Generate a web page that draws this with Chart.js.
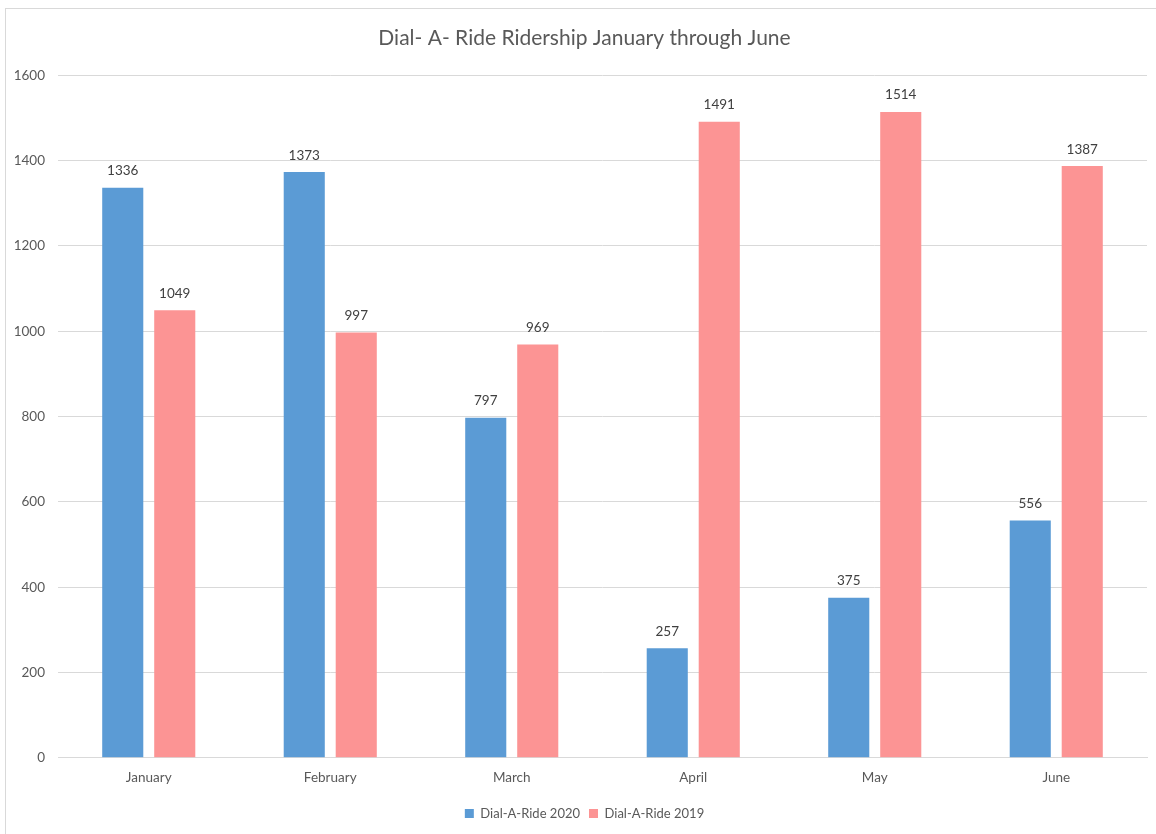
<!DOCTYPE html>
<html>
<head>
<meta charset="utf-8">
<script src="https://cdn.jsdelivr.net/npm/chart.js@4/dist/chart.umd.min.js"></script>
<style>
  html, body { margin: 0; padding: 0; background: #ffffff; }
  #wrap { width: 1156px; height: 834px; position: relative; }
</style>
</head>
<body>
<div id="wrap"><canvas id="chart" width="1156" height="834"></canvas></div>
<script>
// Monthly ridership, January through June
const months = ['January', 'February', 'March', 'April', 'May', 'June'];
const riders2020 = [1336, 1373, 797, 257, 375, 556];
const riders2019 = [1049, 997, 969, 1491, 1514, 1387];
const seriesNames = ['Dial-A-Ride 2020', 'Dial-A-Ride 2019'];
const yTicks = [0, 200, 400, 600, 800, 1000, 1200, 1400, 1600];

const FONT = 'Lato, "Open Sans", sans-serif';

// Value labels above each bar
const barValueLabels = {
  id: 'barValueLabels',
  afterDatasetsDraw(chart) {
    const ctx = chart.ctx;
    ctx.save();
    ctx.font = '13.5px ' + FONT;
    ctx.fillStyle = '#404040';
    ctx.textAlign = 'center';
    ctx.textBaseline = 'bottom';
    chart.data.datasets.forEach((ds, i) => {
      chart.getDatasetMeta(i).data.forEach((bar, j) => {
        ctx.fillText(String(ds.data[j]), bar.x, bar.y - 10);
      });
    });
    ctx.restore();
  }
};

// Thin outer frame around the chart
const chartFrame = {
  id: 'chartFrame',
  afterDraw(chart) {
    const ctx = chart.ctx;
    ctx.save();
    ctx.strokeStyle = '#d9d9d9';
    ctx.lineWidth = 1;
    ctx.strokeRect(5.5, 8.5, chart.width + 20, chart.height + 20);
    ctx.restore();
  }
};

// Center the title and legend inside the framed region rather than the full canvas
const centerHeaderFooter = {
  id: 'centerHeaderFooter',
  afterLayout(chart) {
    const inset = 22;
    if (chart.titleBlock) chart.titleBlock.left += inset;
    if (chart.legend) chart.legend.left += inset;
  }
};

new Chart(document.getElementById('chart'), {
  type: 'bar',
  data: {
    labels: months,
    datasets: [
      { label: seriesNames[0], data: riders2020, backgroundColor: '#5B9BD5',
        barPercentage: 0.79, categoryPercentage: 0.573 },
      { label: seriesNames[1], data: riders2019, backgroundColor: '#FC9494',
        barPercentage: 0.79, categoryPercentage: 0.573 }
    ]
  },
  options: {
    responsive: false,
    animation: false,
    devicePixelRatio: 1,
    layout: { padding: { left: 0, right: 9, top: 0, bottom: 4 } },
    plugins: {
      title: {
        display: true,
        text: 'Dial- A- Ride Ridership January through June',
        color: '#595959',
        font: { family: FONT, size: 21, weight: 'normal' },
        padding: { top: 26, bottom: 24 }
      },
      legend: {
        position: 'bottom',
        labels: {
          color: '#595959',
          font: { family: FONT, size: 13 },
          boxWidth: 9,
          boxHeight: 9,
          padding: 9
        }
      },
      tooltip: { enabled: false }
    },
    scales: {
      x: {
        grid: { display: false, drawTicks: false },
        border: { display: true, color: '#d9d9d9', width: 1 },
        ticks: { color: '#595959', font: { family: FONT, size: 13.5 }, padding: 12 }
      },
      y: {
        min: 0,
        max: 1600,
        afterFit(scale) { scale.width = 58; },
        afterBuildTicks(scale) { scale.ticks = yTicks.map(v => ({ value: v })); },
        grid: { color: '#d9d9d9', drawTicks: false },
        border: { display: false },
        ticks: {
          color: '#595959',
          font: { family: FONT, size: 13.5 },
          padding: 13,
          callback: (v) => String(v)
        }
      }
    }
  },
  plugins: [barValueLabels, chartFrame, centerHeaderFooter]
});
</script>
</body>
</html>
